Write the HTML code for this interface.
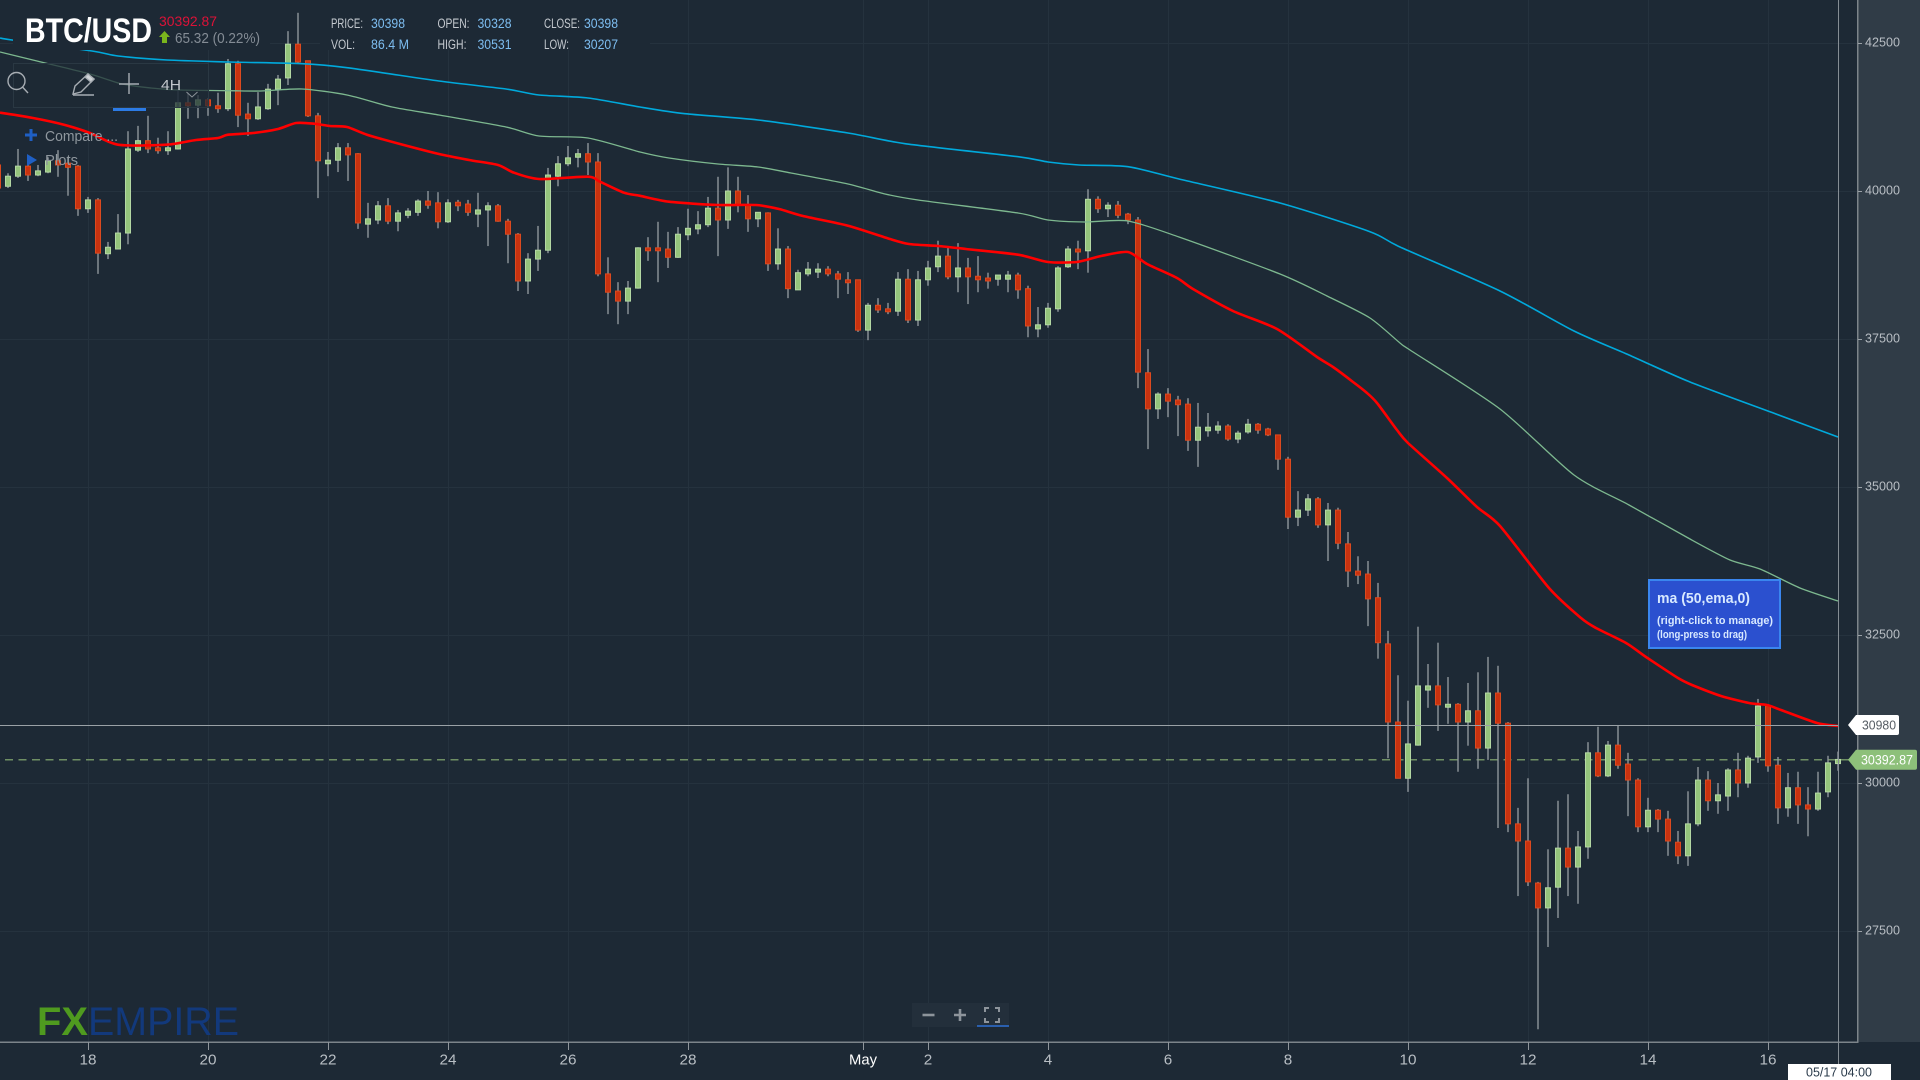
<!DOCTYPE html>
<html lang="en">
<head>
<meta charset="utf-8">
<title>BTC/USD chart</title>
<style>
html,body{margin:0;padding:0;background:#1d2935;width:1920px;height:1080px;overflow:hidden}
svg{display:block;position:absolute;left:0;top:0}
text{font-family:"Liberation Sans",sans-serif}
</style>
</head>
<body>
<svg id="chart" xmlns="http://www.w3.org/2000/svg" width="1920" height="1080" viewBox="0 0 1920 1080">
  <rect x="0" y="0" width="1920" height="1080" fill="#1d2935"/>
  <rect x="1858" y="0" width="62" height="1042" fill="#303c47"/>
  <defs><clipPath id="plot-clip"><rect x="0" y="0" width="1858" height="1042"/></clipPath></defs>
  <g id="grid"></g>
  <rect x="320" y="0" width="330" height="50" fill="#1d2935"/>
  <g id="crosshair-under"></g>
  <g id="candles" clip-path="url(#plot-clip)"></g>
  <g id="mas" clip-path="url(#plot-clip)"></g>

  <rect x="1857" y="0" width="1.5" height="1043" fill="#7c848a"/>
  <rect x="0" y="1041.5" width="1858" height="1.5" fill="#7c848a"/>
  <g id="axes"></g>

  <!-- Title block -->
  <rect x="13" y="0" width="257" height="50" fill="#1d2935"/>
  <text x="25" y="42" font-size="34" font-weight="700" fill="#ffffff" textLength="127" lengthAdjust="spacingAndGlyphs">BTC/USD</text>
  <text x="159" y="26" font-size="14" fill="#dc1238" textLength="58" lengthAdjust="spacingAndGlyphs">30392.87</text>
  <path d="M164.5 31l5.5 6h-3v6h-5v-6h-3z" fill="#7ab51d"/>
  <text x="175" y="43" font-size="14.5" fill="#848c95" textLength="85" lengthAdjust="spacingAndGlyphs">65.32 (0.22%)</text>

  <!-- OHLC info -->
  <g font-size="13.5">
    <text x="331" y="28" fill="#c5cad0" textLength="32" lengthAdjust="spacingAndGlyphs">PRICE:</text>
    <text x="371" y="28" fill="#7dbdf0" textLength="34" lengthAdjust="spacingAndGlyphs">30398</text>
    <text x="331" y="49" fill="#c5cad0" textLength="24" lengthAdjust="spacingAndGlyphs">VOL:</text>
    <text x="371" y="49" fill="#7dbdf0" textLength="38" lengthAdjust="spacingAndGlyphs">86.4 M</text>
    <text x="437.5" y="28" fill="#c5cad0" textLength="32" lengthAdjust="spacingAndGlyphs">OPEN:</text>
    <text x="477.5" y="28" fill="#7dbdf0" textLength="34" lengthAdjust="spacingAndGlyphs">30328</text>
    <text x="437.5" y="49" fill="#c5cad0" textLength="29" lengthAdjust="spacingAndGlyphs">HIGH:</text>
    <text x="477.5" y="49" fill="#7dbdf0" textLength="34" lengthAdjust="spacingAndGlyphs">30531</text>
    <text x="544" y="28" fill="#c5cad0" textLength="36" lengthAdjust="spacingAndGlyphs">CLOSE:</text>
    <text x="584" y="28" fill="#7dbdf0" textLength="34" lengthAdjust="spacingAndGlyphs">30398</text>
    <text x="544" y="49" fill="#c5cad0" textLength="25" lengthAdjust="spacingAndGlyphs">LOW:</text>
    <text x="584" y="49" fill="#7dbdf0" textLength="34" lengthAdjust="spacingAndGlyphs">30207</text>
  </g>

  <!-- Toolbar -->
  <g>
    <rect x="13.5" y="63.5" width="195" height="44" fill="#1d2935" fill-opacity="0.72" stroke="#2a3843"/>
    <g fill="none" stroke="#a7adb3" stroke-width="1.4">
      <circle cx="16.5" cy="81" r="8.5"/><path d="M22.5 87l5.5 6"/>
    </g>
    <g fill="none" stroke="#a7adb3" stroke-width="1.4">
      <path d="M73 94l2-8 13-12 6 5-13 13z"/><path d="M73 95h21"/><path d="M88 74l6 5-3 3-6-5z" fill="#d0d4d8"/>
    </g>
    <path d="M129 73v21M119 84h20" stroke="#a7adb3" stroke-width="1.4" fill="none"/>
    <text x="161" y="90" font-size="15" fill="#c2c7cc" textLength="20" lengthAdjust="spacingAndGlyphs">4H</text>
    <path d="M178 90v18" stroke="#2e3c47"/>
    <path d="M186.5 92l5.5 5 5.500-5" fill="none" stroke="#8d949b"/>
    <rect x="113" y="108" width="33" height="3" fill="#2c7be5"/>
  </g>
  <g>
    <path d="M31 129v12M25 135h12" stroke="#1f5fc4" stroke-width="3"/>
    <text x="45" y="141" font-size="15" fill="#8f979e" textLength="73" lengthAdjust="spacingAndGlyphs">Compare ...</text>
  </g>
  <g>
    <path d="M27 154l10 6-10 6z" fill="#1f5fc4"/>
    <text x="45" y="165" font-size="15" fill="#8f979e" textLength="33" lengthAdjust="spacingAndGlyphs">Plots</text>
  </g>

  <!-- Tooltip -->
  <g>
    <rect x="1649" y="580" width="131" height="68" fill="#2b50cf" stroke="#3a86ef" stroke-width="2"/>
    <text x="1657" y="603" font-size="15" font-weight="700" fill="#d8e9ff" textLength="93" lengthAdjust="spacingAndGlyphs">ma (50,ema,0)</text>
    <text x="1657" y="624" font-size="11" font-weight="700" fill="#d8e9ff" textLength="116" lengthAdjust="spacingAndGlyphs">(right-click to manage)</text>
    <text x="1657" y="638" font-size="11" font-weight="700" fill="#d8e9ff" textLength="90" lengthAdjust="spacingAndGlyphs">(long-press to drag)</text>
  </g>

  <!-- Logo -->
  <g>
    <text x="37" y="1035" font-size="40" font-weight="700" fill="#4f9a1f" textLength="51" lengthAdjust="spacingAndGlyphs">FX</text>
    <text x="88" y="1035" font-size="40" fill="#12397c" textLength="151" lengthAdjust="spacingAndGlyphs">EMPIRE</text>
  </g>

  <!-- Zoom controls -->
  <g>
    <rect x="912" y="1003" width="97" height="24" fill="#232f3b"/>
    <path d="M922.500 1015h12" stroke="#8d949b" stroke-width="2.600"/>
    <path d="M954 1015h12M960 1009v12" stroke="#8d949b" stroke-width="2.600"/>
    <path d="M985 1012v-4h4M995 1008h4v4M999 1018v4h-4M989 1022h-4v-4" fill="none" stroke="#8d949b" stroke-width="2"/>
    <rect x="977" y="1025" width="32" height="2" fill="#2a5fae"/>
  </g>

  <g id="labels"></g>

  <rect x="1788" y="1064" width="103" height="16" fill="#ffffff"/>
  <text x="1839" y="1076.500" font-size="13" fill="#2a3a4a" text-anchor="middle" textLength="66" lengthAdjust="spacingAndGlyphs">05/17 04:00</text>
</svg>

<script>
// ---- Candle data (4H bars) ----
const opens = [
40440,40080,40250,40420,40270,40320,40510,40470,40420,39700,
39850,38940,39020,39290,40690,40850,40730,40680,40710,41490,
41450,41540,41440,41390,42150,41300,41220,41390,41720,41910,
42480,42200,41270,40460,40520,40730,40630,39440,39510,39750,
39490,39590,39640,39830,39800,39480,39810,39780,39610,39680,
39750,39490,39270,38480,38850,39000,40250,40460,40570,40630,
40490,38600,38310,38140,38360,39040,39040,39020,38880,39260,
39360,39430,39710,39510,40000,39760,39530,39630,38770,39020,
38330,38600,38630,38680,38600,38500,38500,37650,38070,38010,
37970,38510,37820,38500,38720,38900,38550,38700,38560,38530,
38510,38510,38580,38350,37670,37740,38010,38720,39020,38990,
39860,39700,39760,39610,39510,36930,36320,36570,36470,36400,
35790,35950,35960,36030,35810,35930,36060,35980,35880,35470,
34490,34610,34800,34360,34610,34040,33580,33530,33130,32350,
31030,30080,30640,31570,31640,31280,31330,31030,31220,30590,
31520,31010,29310,29020,28310,27890,28240,28900,28580,28920,
30510,30120,30640,30320,30050,29260,29540,29390,29000,28770,
29310,30050,29700,29780,30220,30000,30440,31300,30300,29580,29920,29630,29560,29850,30328];
const highs = [
40520,40300,40710,40570,40440,40570,40690,40570,40440,39900,
39880,39140,39610,41010,41100,41270,40900,41010,41500,41660,
41620,41570,41660,42230,42200,41490,41670,41810,41960,42700,
43010,42200,41320,40660,40810,40810,40640,39800,39830,39880,
39680,39710,39860,40000,39980,39860,39850,39850,39970,39810,
39780,39530,39290,38950,39410,40390,40590,40760,40710,40810,
40640,38880,38460,38480,39050,39220,39480,39310,39390,39700,
39660,39900,40240,40400,40240,39930,39640,39640,39370,39070,
38670,38800,38780,38730,38650,38630,38500,38110,38190,38110,
38630,38680,38650,38820,39160,39070,39120,38870,38900,38620,
38580,38650,38620,38400,38040,38110,38730,39070,39160,40030,
39910,39810,39830,39630,39560,37330,36600,36670,36540,36500,
36420,36250,36110,36060,35950,36150,36080,36000,35880,35510,
34930,34880,34830,34730,34650,34240,33830,33750,33380,32570,
31820,31390,32640,32010,32370,31790,31350,31690,31870,32130,
31980,31030,29580,30080,28330,28880,29700,29810,29190,30690,
30950,30710,30980,30510,30080,29750,29560,29530,29190,29860,
30270,30200,30000,30250,30510,30460,31420,31320,30440,30170,30190,29930,30190,30460,30531];
const lows = [
40020,40050,40220,40170,40250,40300,40240,39920,39580,39630,
38600,38850,39020,39100,40660,40640,40630,40610,40700,41220,
41230,41270,41320,41350,41080,40930,41200,41370,41450,41790,
42160,41250,39880,40250,40320,40170,39360,39210,39440,39440,
39320,39540,39580,39700,39370,39460,39660,39580,39390,39070,
39480,38780,38310,38260,38650,38950,40080,40420,40400,40270,
38560,37920,37750,37920,38350,38820,38460,38700,38870,39170,
39270,39390,38900,39360,39640,39310,39390,38650,38670,38190,
38330,38560,38530,38560,38190,38260,37620,37480,37940,37920,
37890,37770,37720,38400,38630,38510,38290,38090,38290,38350,
38400,38290,38180,37530,37530,37690,37960,38700,38680,38620,
39630,39560,39540,39440,36670,35640,36150,36180,35860,35610,
35340,35850,35900,35780,35740,35900,35900,35860,35290,34290,
34340,34510,34310,33750,33950,33310,33360,32650,32100,30420,
30080,29850,30630,31270,30880,31000,30190,30630,30240,30390,
29240,29170,28090,28260,25840,27230,27720,28090,27960,28720,
30100,30100,30240,29440,29170,29170,29170,28770,28630,28600,
29270,29530,29480,29530,29760,29920,30340,30190,29310,29430,29310,29100,29530,29760,30207];
const closes = [
40050,40250,40420,40270,40340,40510,40440,40400,39700,39850,
38950,39050,39290,40710,40850,40710,40680,40730,41490,41440,
41540,41440,41390,42150,41280,41220,41420,41720,41890,42480,
42180,41270,40510,40520,40730,40610,39460,39530,39750,39490,
39630,39660,39830,39760,39480,39800,39750,39640,39680,39750,
39490,39270,38480,38850,39000,40270,40460,40560,40630,40490,
38600,38290,38140,38360,39040,38990,38990,38880,39270,39370,
39430,39710,39510,40000,39760,39530,39640,38770,39020,38350,
38620,38680,38680,38600,38510,38450,37650,38070,37990,37960,
38510,37820,38500,38700,38900,38550,38700,38550,38500,38480,
38580,38580,38330,37720,37740,38020,38700,39020,38970,39860,
39700,39760,39590,39510,36940,36320,36570,36450,36390,35790,
36010,36010,36030,35810,35910,36060,35960,35880,35470,34490,
34610,34800,34360,34610,34050,33580,33510,33110,32370,31030,
30080,30660,31640,31640,31320,31330,31030,31220,30590,31520,
31010,29310,29020,28330,27890,28230,28900,28580,28920,30510,
30120,30640,30300,30050,29260,29540,29390,29020,28770,29310,
30050,29700,29800,30220,30000,30420,31300,30290,29580,29920,29630,29560,29830,30340,30398];

// ---- Moving averages: bar position + value ----
const ma50Bars = [0.2,3.5,6.7,9.2,12,16.9,19.8,22,23,25.5,28,29.8,31.6,33.2,34.9,36.9,40.2,44.1,47.1,50,51.6,54.1,59,60.2,62.6,64.2,67.1,72,75.8,78.1,80.5,85,89.1,91.1,94,96.8,102,105,107.9,110.3,113,114.9,117.9,119.5,123.5,127.9,131.9,133.5,135.5,136.9,137.9,139.9,141,144.9,147.9,150.2,155.1,158.3,159.8,162.8,164.8,168,169.4,172.3,175.1,176.9,178.3,181.9,184];
const ma50Values = [41323,41233,41115,40980,40782,40782,40862,40895,40951,40980,41047,41149,41137,41098,41081,40951,40794,40625,40524,40439,40309,40203,40242,40157,39971,39919,39819,39764,39764,39696,39578,39414,39194,39105,39071,39020,38924,38801,38801,38902,38970,38767,38531,38345,37973,37669,37196,37027,36774,36588,36419,35963,35743,35152,34662,34341,33294,32787,32618,32365,32129,31774,31656,31470,31351,31317,31233,31014,30963];
const ma100Bars = [0.2,3.9,9.2,12.4,15.3,18.2,23.1,26.3,30.4,34.9,39.4,44.1,50.8,54.1,59,64.2,67.1,72,76,79.3,85,88.7,92,102,105,108.7,113,118.1,128.2,132.9,137.2,140.2,141.2,150.2,157.6,163.1,169.2,173.2,176.2,180.2,184];
const ma100Values = [42348,42196,41976,41808,41740,41706,41694,41689,41723,41622,41419,41284,41081,40929,40895,40659,40558,40456,40406,40304,40118,39949,39848,39628,39510,39476,39493,39223,38598,38226,37855,37432,37314,36317,35203,34696,34122,33767,33615,33294,33074];
const ma200Bars = [0.2,1.4,9.4,12,16.9,23.1,30.4,34.9,44.1,50.8,54.1,59,64.2,68.7,76,85,90.7,102,105,108.1,113,118.1,128.2,137.2,140.2,150.2,157.6,163.1,169.2,177.8,184];
const ma200Values = [42585,42551,42365,42281,42213,42179,42150,42083,41858,41723,41622,41571,41419,41306,41199,40980,40799,40580,40490,40439,40411,40203,39797,39312,39054,38311,37635,37230,36774,36233,35845];

// ---- Axis data ----
const priceTicks = [42500,40000,37500,35000,32500,30000,27500];
const dayLabels = ["18","20","22","24","26","28","May","2","4","6","8","10","12","14","16"];
const dayBars = [9,21,33,45,57,69,86.5,93,105,117,129,141,153,165,177];
const lastPrice = 30392.87;
const crosshairPrice = 30980;
const crosshairBar = 184;

// ---- Axis functions ----
function xOf(bar){ return -2 + bar * 10; }
function yOf(price){ return 43 + (42500 - price) * 148 / 2500; }

const NS = "http://www.w3.org/2000/svg";
function make(tag, parent, attrs){
  const el = document.createElementNS(NS, tag);
  for (const k in attrs) el.setAttribute(k, attrs[k]);
  parent.appendChild(el);
  return el;
}

const grid = document.getElementById("grid");
const axes = document.getElementById("axes");
const under = document.getElementById("crosshair-under");
const candles = document.getElementById("candles");
const mas = document.getElementById("mas");
const labels = document.getElementById("labels");

// Grid + axis ticks
priceTicks.forEach(function(p){
  const y = yOf(p);
  const line = make("line", grid, {x1:0, x2:1858, y1:Math.round(y)+0.5, y2:Math.round(y)+0.5, stroke:"#25323e", "stroke-width":1});
  
  
  const tick = make("line", axes, {x1:1858, x2:1862, y1:Math.round(y)+0.5, y2:Math.round(y)+0.5, stroke:"#9aa1a7", "stroke-width":1});
  
  
  const t = make("text", axes, {x:1865, y:y+3.5, "font-size":13, fill:"#b8bec4", textLength:35, lengthAdjust:"spacingAndGlyphs"});
  
  
  t.textContent = String(p);
});
dayBars.forEach(function(b, i){
  const x = xOf(b);
  const line = make("line", grid, {x1:x+0.5, x2:x+0.5, y1:0, y2:1042, stroke:"#25323e", "stroke-width":1});
  
  
  const tick = make("line", axes, {x1:x+0.5, x2:x+0.5, y1:1042, y2:1050, stroke:"#8f969c", "stroke-width":1});
  
  
  const isMonth = dayLabels[i] === "May";
  const t = make("text", axes, {x:x, y:1064.5, "font-size":15, fill:isMonth ? "#ffffff" : "#b8bec4", "text-anchor":"middle", textLength:isMonth ? 28 : (dayLabels[i].length > 1 ? 17 : 8.5), lengthAdjust:"spacingAndGlyphs"});
  
  
  t.textContent = dayLabels[i];
});

// Price lines
const lastY = yOf(lastPrice);
const crossY = yOf(crosshairPrice);
const dashed = make("line", under, {x1:5, x2:1852, y1:lastY, y2:lastY, stroke:"#6f8f64", "stroke-width":1.6, "stroke-dasharray":"8 5.500"});


const cx = xOf(crosshairBar);

// Candles
opens.forEach(function(o, i){
  const c = closes[i], x = xOf(i);
  const up = c >= o;
  const wick = make("rect", candles, {x:x-0.7, y:yOf(highs[i]), width:1.4, height:yOf(lows[i])-yOf(highs[i]), fill:"#8f969c"});
  
  
  const top = yOf(Math.max(o, c)), bot = yOf(Math.min(o, c));
  const body = make("rect", candles, {x:x-2.5, y:top, width:5, height:Math.max(bot-top, 1.5), fill:up ? "#95c47c" : "#c9320f", stroke:up ? "#b4d8a4" : "#dc4a1f", "stroke-width":1});
  
  
});

// Moving averages (smoothed through the read points)
function pathFor(bars, values){
  const pts = bars.map(function(b, i){ return [xOf(b), yOf(values[i])]; });
  let d = "M" + pts[0][0].toFixed(1) + " " + pts[0][1].toFixed(1);
  for (let i = 0; i < pts.length - 1; i++) {
    const p0 = pts[Math.max(i - 1, 0)], p1 = pts[i], p2 = pts[i + 1], p3 = pts[Math.min(i + 2, pts.length - 1)];
    const k = 1 / 8;
    const c1x = p1[0] + (p2[0] - p0[0]) * k, c1y = p1[1] + (p2[1] - p0[1]) * k;
    const c2x = p2[0] - (p3[0] - p1[0]) * k, c2y = p2[1] - (p3[1] - p1[1]) * k;
    d += "C" + c1x.toFixed(1) + " " + c1y.toFixed(1) + " " + c2x.toFixed(1) + " " + c2y.toFixed(1) + " " + p2[0].toFixed(1) + " " + p2[1].toFixed(1);
  }
  return d;
}
const ma200 = make("path", mas, {d:pathFor(ma200Bars, ma200Values), fill:"none", stroke:"#00a9dc", "stroke-width":1.6, "stroke-linejoin":"round"});


const ma100 = make("path", mas, {d:pathFor(ma100Bars, ma100Values), fill:"none", stroke:"#7db88f", "stroke-width":1.3, "stroke-linejoin":"round"});


const ma50 = make("path", mas, {d:pathFor(ma50Bars, ma50Values), fill:"none", stroke:"#ff0000", "stroke-width":2.6, "stroke-linejoin":"round"});



// Crosshair
const crossH = make("line", labels, {x1:0, x2:cx, y1:Math.round(crossY)+0.5, y2:Math.round(crossY)+0.5, stroke:"#9aa1a6", "stroke-width":1});


const crossV = make("line", labels, {x1:cx+0.5, x2:cx+0.5, y1:0, y2:1064, stroke:"#858d94", "stroke-width":1});



// Axis value flags
function flagPath(y, x0, x1, h){
  return "M" + x0 + " " + y + "L" + (x0+8) + " " + (y-h) + "H" + (x1-2) + "Q" + x1 + " " + (y-h) + " " + x1 + " " + (y-h+2) + "V" + (y+h-2) + "Q" + x1 + " " + (y+h) + " " + (x1-2) + " " + (y+h) + "H" + (x0+8) + "Z";
}
const crossFlag = make("path", labels, {d:flagPath(crossY, 1848, 1899, 10), fill:"#ffffff"});


const crossText = make("text", labels, {x:1862, y:crossY+4.5, "font-size":13, fill:"#555c63", textLength:34, lengthAdjust:"spacingAndGlyphs"});


crossText.textContent = String(crosshairPrice);
const lastFlag = make("path", labels, {d:flagPath(lastY, 1848, 1917, 10), fill:"#8dc07a"});


const lastText = make("text", labels, {x:1861, y:lastY+5, "font-size":14, fill:"#ffffff", textLength:52, lengthAdjust:"spacingAndGlyphs"});


lastText.textContent = lastPrice.toFixed(2);
</script>
</body>
</html>
